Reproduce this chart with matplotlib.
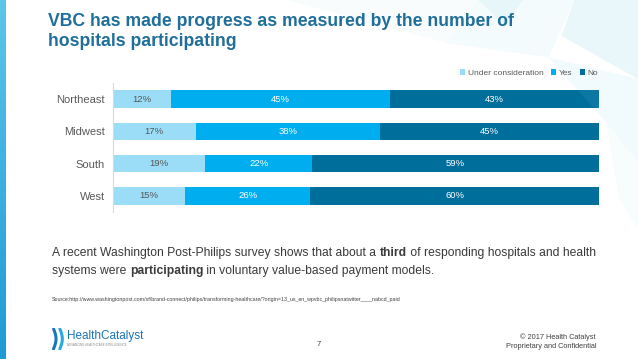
import numpy as np
import matplotlib
matplotlib.use("Agg")
from matplotlib import pyplot as plt
from matplotlib.patches import Polygon

plt.rcParams['font.family'] = ['Liberation Sans', 'DejaVu Sans']

regions = ["Northeast", "Midwest", "South", "West"]
under = [12, 17, 19, 15]
yes = [45, 38, 22, 26]
no = [43, 45, 59, 60]
series_names = ["Under consideration", "Yes", "No"]
series_colors = ["#9BDDF7", "#00AEEF", "#006E9B"]
label_colors = ["#555555", "white", "white"]

fig = plt.figure(figsize=(6.38, 3.59), dpi=100)
fig.patch.set_facecolor("white")

# background decoration (light faceted shapes top right)
deco = [
    [(0.45, 1.0), (0.75, 1.0), (0.70, 0.88)],
    [(0.70, 0.88), (0.75, 1.0), (0.90, 1.0), (0.86, 0.84)],
    [(0.90, 1.0), (1.0, 1.0), (1.0, 0.78), (0.88, 0.90)],
    [(0.86, 0.84), (1.0, 0.78), (1.0, 0.55), (0.95, 0.66)],
    [(0.95, 0.66), (1.0, 0.55), (1.0, 0.36), (0.97, 0.45)],
    [(0.75, 1.0), (0.82, 1.0), (0.79, 0.93)],
]
alphas = [0.05, 0.08, 0.16, 0.10, 0.06, 0.10]
for pts, a in zip(deco, alphas):
    fig.patches.append(Polygon(pts, closed=True, transform=fig.transFigure,
                               facecolor="#7CCFE3", alpha=a, edgecolor="none", zorder=0))
# left stripe
grad = np.linspace(0, 1, 100).reshape(-1, 1)
sax = fig.add_axes([0, 0, 6 / 638, 1])
sax.imshow(grad, aspect="auto", cmap=matplotlib.colors.LinearSegmentedColormap.from_list(
    "s", ["#5BC6EA", "#1E9AD6"]))
sax.axis("off")

# title
fig.text(48 / 638, 1 - 22 / 359, "VBC has made progress as measured by the number of",
         fontsize=12.7, fontweight="bold", color="#1F6E9B", va="center", ha="left")
fig.text(48 / 638, 1 - 42 / 359, "hospitals participating",
         fontsize=12.7, fontweight="bold", color="#1F6E9B", va="center", ha="left")

ax = fig.add_axes([113 / 638, 1 - 212 / 359, (599 - 113) / 638, (212 - 83) / 359])
ax.set_facecolor("none")
data = np.array([under, yes, no], dtype=float)
frac = data / data.sum(axis=0)
y = np.arange(len(regions))
left = np.zeros(len(regions))
for i in range(3):
    ax.barh(y, frac[i], left=left, height=0.55, color=series_colors[i],
            label=series_names[i], zorder=2)
    for j in range(len(regions)):
        ax.text(left[j] + frac[i][j] / 2, y[j], f"{int(data[i][j])}%", ha="center", va="center",
                fontsize=6.8, color=label_colors[i], zorder=3)
    left += frac[i]

ax.set_xlim(0, 1)
ax.set_ylim(len(regions) - 0.5, -0.5)
ax.set_yticks(y)
ax.set_yticklabels(regions, fontsize=8, color="#595959")
ax.tick_params(axis="y", length=0, pad=6)
ax.set_xticks([])
for s in ["top", "right", "bottom"]:
    ax.spines[s].set_visible(False)
ax.spines["left"].set_color("#D9D9D9")
ax.spines["left"].set_linewidth(0.8)

leg = fig.legend(loc="center right", bbox_to_anchor=(602 / 638, 1 - 73 / 359), ncol=3, frameon=False,
                 fontsize=6, handlelength=0.6, handleheight=0.6, handletextpad=0.3,
                 columnspacing=0.9, borderpad=0)
for t in leg.get_texts():
    t.set_color("#595959")

# body text with bold words
fig.canvas.draw()
renderer = fig.canvas.get_renderer()


def rich_line(x, yy, parts, size=8.75):
    for txt, bold in parts:
        t = fig.text(x, yy, txt, fontsize=size, fontweight="bold" if bold else "normal",
                     color="#3A3A3A", va="baseline", ha="left")
        bb = t.get_window_extent(renderer=renderer)
        x += bb.width / fig.bbox.width


rich_line(52 / 638, 1 - 256 / 359, [
    ("A recent Washington Post-Philips survey shows that about a ", False),
    ("third", True),
    (" of responding hospitals and health", False)])
rich_line(52 / 638, 1 - 274 / 359, [
    ("systems were ", False), ("participating", True),
    (" in voluntary value-based payment models.", False)])

fig.text(52 / 638, 1 - 300 / 359,
         "Source:http://www.washingtonpost.com/sf/brand-connect/philips/transforming-healthcare/?origin=13_us_en_wpvbc_philipsnatwitter____nabcd_paid",
         fontsize=3.75, color="#404040", va="center", ha="left")

# footer
fig.text(319 / 638, 1 - 345 / 359, "7", fontsize=5.5, color="#404040", ha="center", va="center")
fig.text(596 / 638, 1 - 337 / 359, "\u00a9 2017 Health Catalyst", fontsize=5.3, color="#404040",
         ha="right", va="center")
fig.text(596 / 638, 1 - 346 / 359, "Proprietary and Confidential", fontsize=5.3, color="#404040",
         ha="right", va="center")

# logo
lax = fig.add_axes([50 / 638, 1 - 350 / 359, 14 / 638, 22 / 359])
lax.axis("off")
tt = np.linspace(0, 1, 30)
for dx, c in [(0.0, "#1B75BC"), (0.45, "#27AAE1")]:
    lax.plot(0.25 + dx + 0.18 * np.sin(tt * 3.1), tt, color=c, lw=2.2, solid_capstyle="round")
lax.set_xlim(0, 1)
lax.set_ylim(-0.05, 1.05)
fig.text(67 / 638, 1 - 336 / 359, "HealthCatalyst", fontsize=8.5, color="#1B75BC",
         ha="left", va="center")
fig.text(67 / 638, 1 - 345 / 359, "ADVANCING HEALTHCARE INTELLIGENCE", fontsize=2.2, color="#8C8C8C",
         ha="left", va="center")

fig.savefig("out.png", dpi=100, facecolor="white")
